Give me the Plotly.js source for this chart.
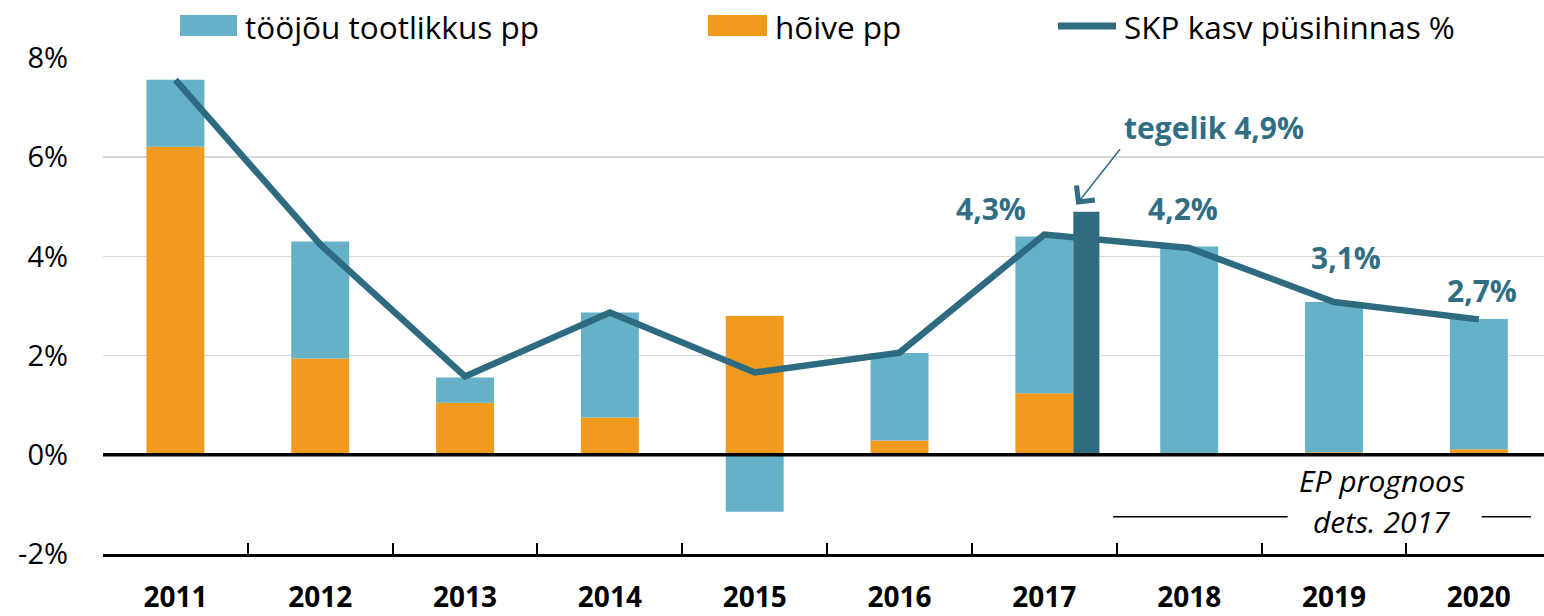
<!DOCTYPE html>
<html>
<head>
<meta charset="utf-8">
<script src="https://cdn.plot.ly/plotly-3.0.1.min.js"></script>
<style>
  html, body { margin: 0; padding: 0; background: #ffffff; }
  #chart { width: 1544px; height: 616px; }
</style>
</head>
<body>
<div id="chart"></div>
<script>
// ---- data ----
const years = ['2011', '2012', '2013', '2014', '2015', '2016', '2017', '2018', '2019', '2020'];
const hoive = [6.21, 1.94, 1.05, 0.75, 2.80, 0.29, 1.24, 0.00, 0.05, 0.11];
const tootlikkus = [1.35, 2.36, 0.51, 2.12, -1.15, 1.76, 3.16, 4.20, 3.03, 2.63];
const skpKasv = [7.56, 4.24, 1.58, 2.87, 1.66, 2.06, 4.44, 4.17, 3.08, 2.73];
const tegelikYear = ['2017'];
const tegelikValue = [4.9];
const yTickVals = [-2, 0, 2, 4, 6, 8];
const yTickText = ['-2%', '0%', '2%', '4%', '6%', '8%'];
const seriesNames = ['tööjõu tootlikkus pp', 'hõive pp', 'SKP kasv püsihinnas %'];
const valueLabels = ['4,3%', '4,2%', '3,1%', '2,7%'];
const tegelikLabel = 'tegelik 4,9%';
const forecastLabel = ['EP prognoos', 'dets. 2017'];

// ---- style ----
const cLight = '#65B1C8';
const cOrange = '#F19A1E';
const cDark = '#2E6B80';
const cText = '#316E84';
const FONT = '"Open Sans", "DejaVu Sans", sans-serif';

const traces = [
  { type: 'bar', x: years, y: hoive, name: seriesNames[1], marker: { color: cOrange }, width: 0.40, xaxis: 'x', yaxis: 'y', hoverinfo: 'x+y' },
  { type: 'bar', x: years, y: tootlikkus, name: seriesNames[0], marker: { color: cLight }, width: 0.40, xaxis: 'x', yaxis: 'y', hoverinfo: 'x+y' },
  { type: 'bar', x: tegelikYear, y: tegelikValue, name: 'tegelik', marker: { color: cDark }, width: 0.18, offset: 0.2, xaxis: 'x2', yaxis: 'y2' },
  { type: 'scatter', mode: 'lines', x: years, y: skpKasv, name: seriesNames[2], line: { color: cDark, width: 6.5 }, xaxis: 'x2', yaxis: 'y2' }
];

const X0 = 103, PW = 1441, YB = 554, PH = 496;
const px = p => (p - X0) / PW;
const py = p => (YB - p) / PH;

const shapes = [
  // zero line
  { type: 'line', xref: 'paper', yref: 'y', x0: 0, x1: 1, y0: 0, y1: 0, line: { color: '#000000', width: 3.5 }, layer: 'above' },
  // forecast bracket lines
  { type: 'line', xref: 'x', yref: 'y', x0: 6.475, x1: 7.68, y0: -1.25, y1: -1.25, line: { color: '#000000', width: 1.6 } },
  { type: 'line', xref: 'x', yref: 'y', x0: 9.02, x1: 9.36, y0: -1.25, y1: -1.25, line: { color: '#000000', width: 1.6 } },
  // custom legend swatches
  { type: 'rect', xref: 'paper', yref: 'paper', x0: px(180), x1: px(237), y0: py(36), y1: py(15), fillcolor: cLight, line: { width: 0 } },
  { type: 'rect', xref: 'paper', yref: 'paper', x0: px(708), x1: px(767), y0: py(36), y1: py(15), fillcolor: cOrange, line: { width: 0 } },
  { type: 'line', xref: 'paper', yref: 'paper', x0: px(1058), x1: px(1116), y0: py(26), y1: py(26), line: { color: cDark, width: 7 } }
];

const legFont = { family: FONT, size: 31.5, color: '#000000' };
const lblFont = { family: FONT, size: 30, color: cText, weight: 'bold' };
const itFont = { family: FONT, size: 30, color: '#000000', style: 'italic' };

const annotations = [
  { xref: 'paper', yref: 'paper', x: px(243), y: py(26), xanchor: 'left', yanchor: 'middle', text: seriesNames[0], showarrow: false, font: legFont },
  { xref: 'paper', yref: 'paper', x: px(773), y: py(26), xanchor: 'left', yanchor: 'middle', text: seriesNames[1], showarrow: false, font: legFont },
  { xref: 'paper', yref: 'paper', x: px(1122), y: py(26), xanchor: 'left', yanchor: 'middle', text: seriesNames[2], showarrow: false, font: legFont },

  { xref: 'x', yref: 'y', x: 5.63, y: 4.96, text: valueLabels[0], showarrow: false, font: lblFont },
  { xref: 'x', yref: 'y', x: 6.96, y: 4.96, text: valueLabels[1], showarrow: false, font: lblFont },
  { xref: 'x', yref: 'y', x: 8.08, y: 3.97, text: valueLabels[2], showarrow: false, font: lblFont },
  { xref: 'x', yref: 'y', x: 9.02, y: 3.31, text: valueLabels[3], showarrow: false, font: lblFont },
  { xref: 'x', yref: 'y', x: 7.17, y: 6.6, text: tegelikLabel, showarrow: false, font: lblFont },
  // arrow
  { xref: 'x', yref: 'y', x: 6.22, y: 5.04, text: '', showarrow: true, ax: 45, ay: -57,
    arrowhead: 4, arrowsize: 3.0, arrowwidth: 1.5, arrowcolor: cText, standoff: 0 },

  { xref: 'x', yref: 'y', x: 8.33, y: -0.52, text: forecastLabel[0], showarrow: false, font: itFont },
  { xref: 'x', yref: 'y', x: 8.33, y: -1.35, text: forecastLabel[1], showarrow: false, font: itFont }
];

const layout = {
  width: 1544, height: 616,
  margin: { l: X0, r: 0, t: 58, b: 62, pad: 0 },
  paper_bgcolor: '#ffffff', plot_bgcolor: '#ffffff',
  barmode: 'relative',
  showlegend: false,
  font: { family: FONT, color: '#000000' },
  xaxis: {
    type: 'category', categoryorder: 'array', categoryarray: years,
    range: [-0.5, 9.45], tickson: 'boundaries',
    ticks: 'inside', ticklen: 11, tickwidth: 2, tickcolor: '#000000',
    showline: true, linecolor: '#000000', linewidth: 3,
    showgrid: false, zeroline: false,
    tickfont: { family: FONT, size: 28, color: '#000000', weight: 'bold' },
    ticklabelstandoff: 16, fixedrange: true
  },
  yaxis: {
    range: [-2, 8], tickvals: yTickVals, ticktext: yTickText,
    showgrid: true, gridcolor: '#d9d9d9', gridwidth: 1.5,
    zeroline: false, showline: false, ticks: '',
    tickfont: { family: FONT, size: 29, color: '#000000' },
    ticklabelstandoff: 34, fixedrange: true
  },
  xaxis2: {
    type: 'category', categoryorder: 'array', categoryarray: years,
    range: [-0.5, 9.45], overlaying: 'x', visible: false, fixedrange: true
  },
  yaxis2: {
    range: [-2, 8], overlaying: 'y', visible: false, fixedrange: true
  },
  shapes: shapes,
  annotations: annotations
};

Plotly.newPlot('chart', traces, layout, { displayModeBar: false, staticPlot: true });
</script>
</body>
</html>
